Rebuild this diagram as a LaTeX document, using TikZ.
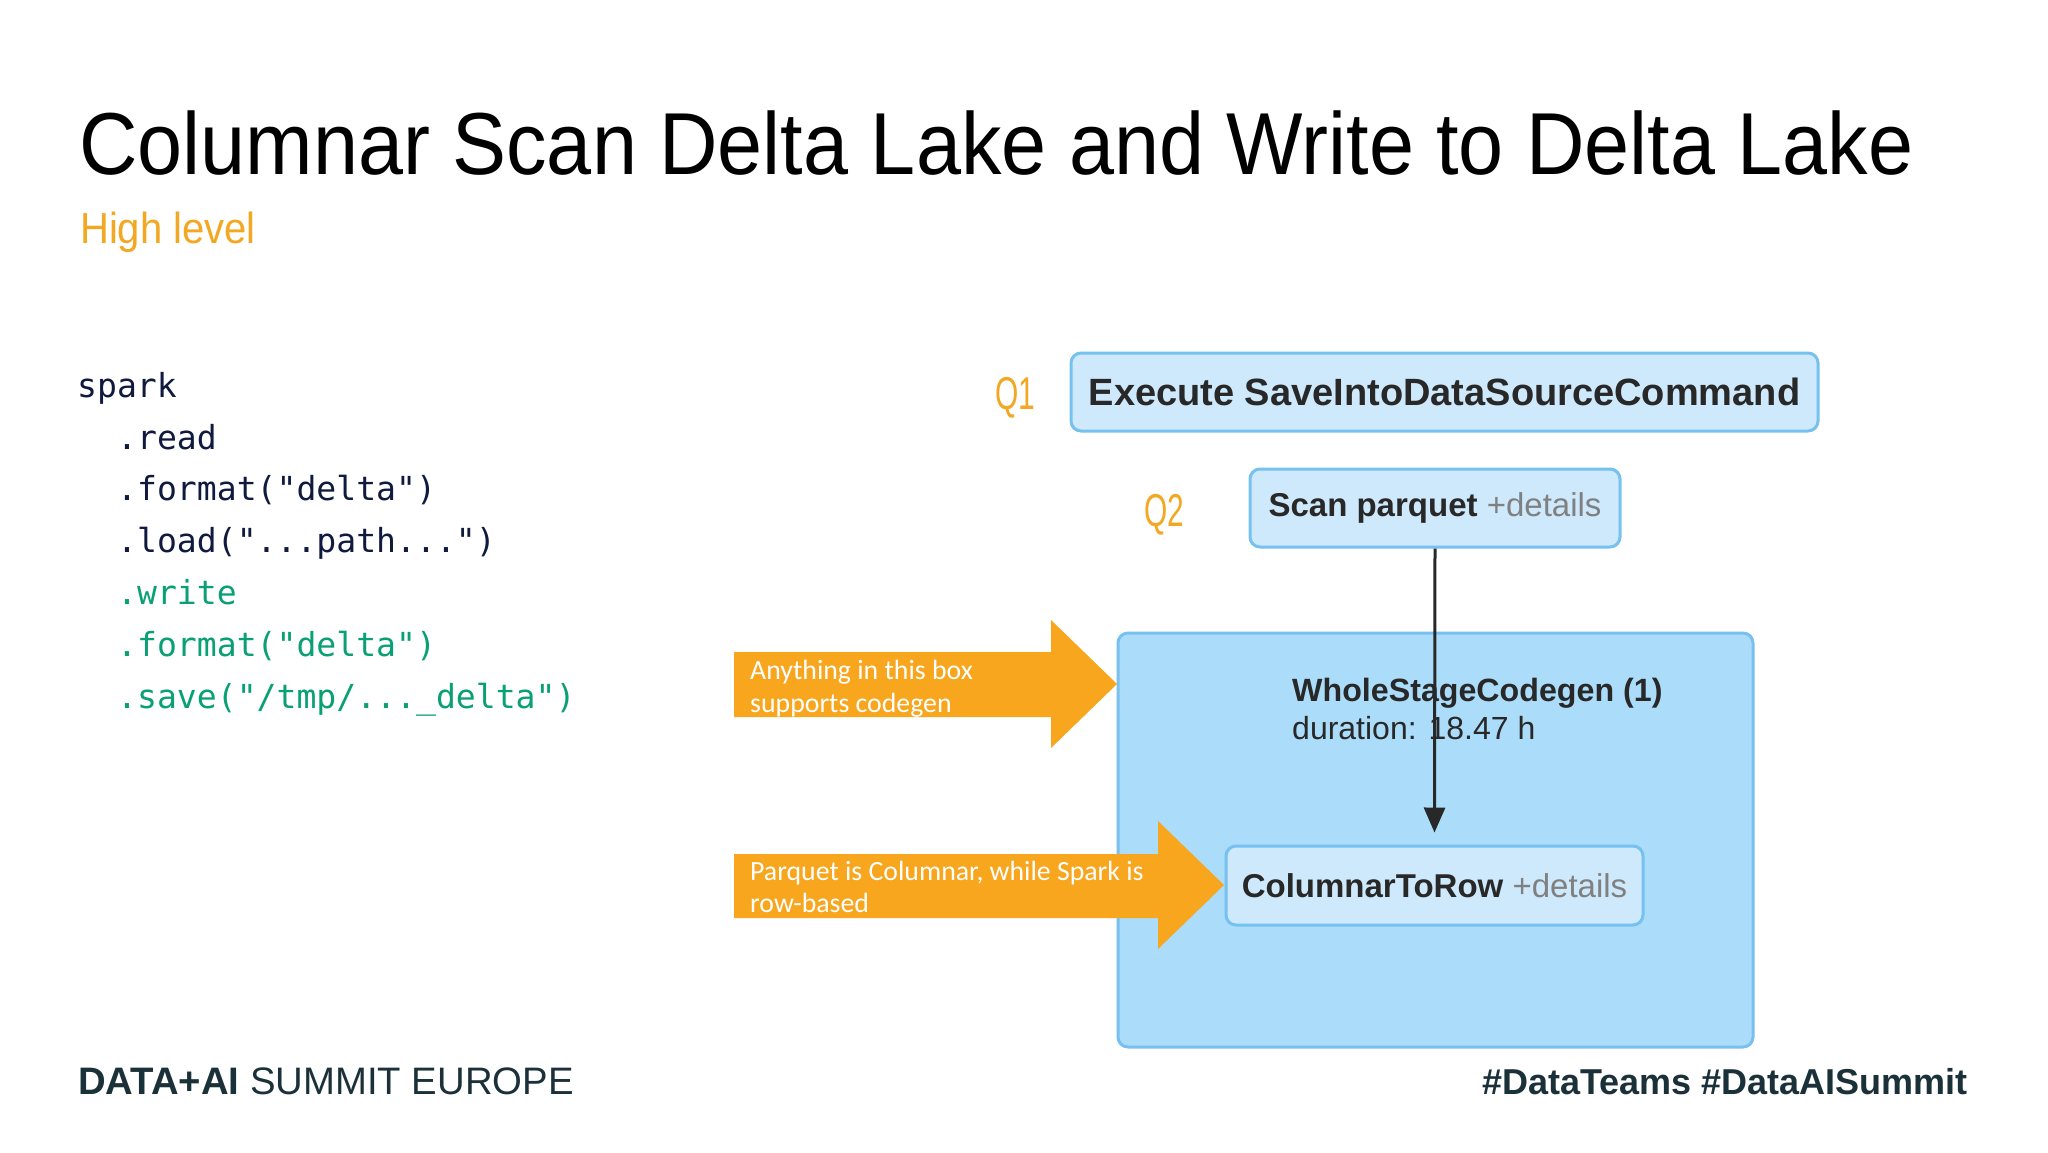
\documentclass[tikz,border=0pt]{standalone}
\usepackage{fontspec}
\setmainfont{Liberation Sans}
\newfontfamily\titlefont[FakeStretch=0.92]{Liberation Sans}
\newfontfamily\qfont[FakeStretch=0.65]{Liberation Sans}
\newfontfamily\codefont{DejaVu Sans Mono}
\newfontfamily\callfont{Carlito}
\usetikzlibrary{arrows.meta}
\definecolor{orangeT}{RGB}{243,168,35}
\definecolor{orangeA}{RGB}{247,166,30}
\definecolor{navy}{RGB}{16,26,62}
\definecolor{codegreen}{RGB}{10,160,118}
\definecolor{boxfill}{RGB}{206,233,251}
\definecolor{boxline}{RGB}{118,193,240}
\definecolor{bigfill}{RGB}{171,220,250}
\definecolor{bigline}{RGB}{120,192,240}
\definecolor{dtext}{RGB}{40,40,40}
\definecolor{gtext}{RGB}{128,128,128}
\definecolor{footer}{RGB}{27,49,57}
\tikzset{
  txt/.style={anchor=base west, inner sep=0pt},
  codeA/.style={txt, text=navy, font=\codefont\fontsize{33.1}{36}\selectfont},
  codeB/.style={txt, text=codegreen, font=\codefont\fontsize{33.1}{36}\selectfont},
  qlabel/.style={txt, text=orangeT, font=\qfont\fontsize{46}{50}\selectfont},
  planbox/.style={draw=boxline, line width=3pt, fill=boxfill, rounded corners=10pt, inner sep=0pt, text=dtext},
  bigbox/.style={draw=bigline, line width=3pt, fill=bigfill, rounded corners=10pt, inner sep=0pt},
  calltext/.style={txt, text=white, font=\callfont\fontsize{27.8}{33}\selectfont},
  flowline/.style={draw=dtext, line width=3pt, -{Triangle[length=25pt,width=21pt]}}
}
\begin{document}
\begin{tikzpicture}[x=1pt,y=-1pt]
\fill[white] (0,0) rectangle (2048,1152);
\useasboundingbox (0,0) rectangle (2048,1152);

% title
\node[txt, font=\titlefont\fontsize{88}{100}\selectfont] (title) at (79,174) {Columnar Scan Delta Lake and Write to Delta Lake};
\node[txt, text=orangeT, font=\titlefont\fontsize{43.5}{46}\selectfont] (sub) at (80,243) {High level};

% code
\node[codeA] (c1) at (77,397) {spark};
\node[codeA] (c2) at (117,449) {.read};
\node[codeA] (c3) at (117,500) {.format("delta")};
\node[codeA] (c4) at (117,552) {.load("...path...")};
\node[codeB] (c5) at (117,604) {.write};
\node[codeB] (c6) at (117,656) {.format("delta")};
\node[codeB] (c7) at (117,708) {.save("/tmp/...\_delta")};

% Q labels
\node[qlabel] (q1) at (995,409) {Q1};
\node[qlabel] (q2) at (1144,526) {Q2};

% plan boxes
\node[planbox, minimum width=747pt, minimum height=78pt, font=\bfseries\fontsize{38}{42}\selectfont] (exec) at (1444.5,392) {Execute SaveIntoDataSourceCommand};
\node[planbox, minimum width=370pt, minimum height=78pt, font=\fontsize{33}{38}\selectfont] (scan) at (1435,508) {\textbf{Scan parquet} \textcolor{gtext}{+details}};

\node[bigbox, minimum width=635pt, minimum height=414pt] (wsc) at (1435.5,840) {};
\node[txt, text=dtext, font=\bfseries\fontsize{32.2}{38}\selectfont] (wsct) at (1292,701) {WholeStageCodegen (1)};
\node[txt, text=dtext, font=\fontsize{32}{38}\selectfont] (dur) at (1292,739) {duration: 18.47 h};

\node[planbox, minimum width=417pt, minimum height=79pt, font=\fontsize{33}{38}\selectfont] (ctr) at (1434.5,885.5) {\textbf{ColumnarToRow} \textcolor{gtext}{+details}};

\draw[flowline] (scan.south) -- ([yshift=12pt]ctr.north);

% callout arrows
\fill[orangeA] (734,652) -- (1051,652) -- (1051,620) -- (1117,684) -- (1051,748) -- (1051,717) -- (734,717) -- cycle;
\node[calltext] (a1) at (750,679) {Anything in this box};
\node[calltext] (a2) at (750,712) {supports codegen};

\fill[orangeA] (734,854) -- (1158,854) -- (1158,821) -- (1224,885) -- (1158,949) -- (1158,918) -- (734,918) -- cycle;
\node[calltext] (b1) at (750,880) {Parquet is Columnar, while Spark is};
\node[calltext] (b2) at (750,912) {row-based};

% footer
\node[txt, text=footer, font=\fontsize{38.3}{40}\selectfont] (brand) at (78,1094) {\textbf{DATA+AI} SUMMIT EUROPE};
\node[anchor=base east, inner sep=0pt, text=footer, font=\bfseries\fontsize{36}{40}\selectfont] (tags) at (1968,1094) {\#DataTeams \#DataAISummit};
\end{tikzpicture}
\end{document}
